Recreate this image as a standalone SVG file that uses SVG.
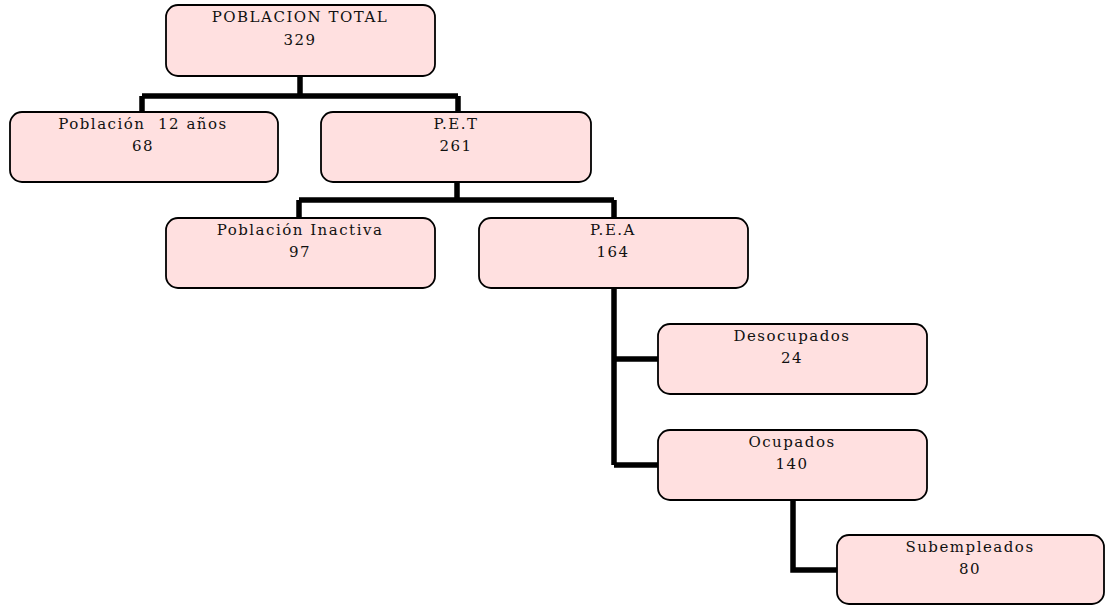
<svg xmlns="http://www.w3.org/2000/svg" width="1105" height="605" viewBox="0 0 1105 605">
<style>
.box{fill:#FFE0E0;stroke:#000;stroke-width:1.8}
.t{font-family:"DejaVu Serif","Liberation Serif",serif;font-size:15px;letter-spacing:1.5px;fill:#111;text-anchor:middle}
.c{fill:none;stroke:#000;stroke-width:5.5}
</style>
<rect width="1105" height="605" fill="#fff"/>
<g id="connectors">
<path class="c" d="M300,77 V96 M142,96 H458 M142,96 V112 M458,96 V112"/>
<path class="c" d="M457,182 V200 M299,200 H614 M299,200 V218 M614,200 V218"/>
<path class="c" d="M614,288 V465 M614,359 H658 M614,465 H658"/>
<path class="c" d="M793,500 V570 H837"/>
</g>
<g id="n1"><rect class="box" x="166" y="5" width="269" height="71" rx="12"/><text class="t" x="300" y="22">POBLACION TOTAL</text><text class="t" x="300" y="45">329</text></g>
<g id="n2"><rect class="box" x="10" y="112" width="268" height="70" rx="12"/><text class="t" x="143" y="129" xml:space="preserve">Población&#160; 12 años</text><text class="t" x="143" y="151">68</text></g>
<g id="n3"><rect class="box" x="321" y="112" width="270" height="70" rx="12"/><text class="t" x="456" y="129">P.E.T</text><text class="t" x="456" y="151">261</text></g>
<g id="n4"><rect class="box" x="166" y="218" width="269" height="70" rx="12"/><text class="t" x="300" y="235">Población Inactiva</text><text class="t" x="300" y="257">97</text></g>
<g id="n5"><rect class="box" x="479" y="218" width="269" height="70" rx="12"/><text class="t" x="613" y="235">P.E.A</text><text class="t" x="613" y="257">164</text></g>
<g id="n6"><rect class="box" x="658" y="324" width="269" height="70" rx="12"/><text class="t" x="792" y="341">Desocupados</text><text class="t" x="792" y="363">24</text></g>
<g id="n7"><rect class="box" x="658" y="430" width="269" height="70" rx="12"/><text class="t" x="792" y="447">Ocupados</text><text class="t" x="792" y="469">140</text></g>
<g id="n8"><rect class="box" x="837" y="535" width="267" height="69" rx="12"/><text class="t" x="970" y="552">Subempleados</text><text class="t" x="970" y="574">80</text></g>
</svg>
